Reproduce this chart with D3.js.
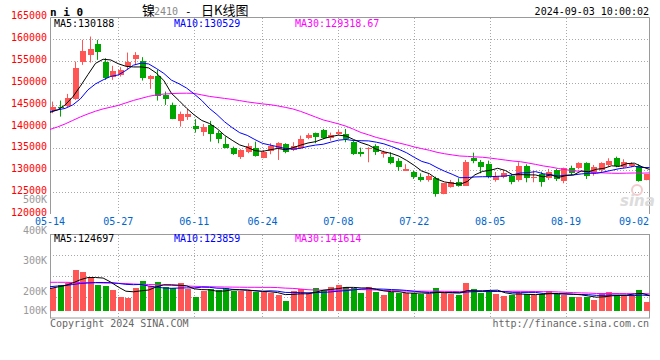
<!DOCTYPE html>
<html><head><meta charset="utf-8">
<script src="https://cdn.jsdelivr.net/npm/d3@7"></script>
<style>html,body{margin:0;padding:0;background:#fff}svg{display:block}</style>
</head><body>
<svg id="c" width="660" height="360"></svg>
<script>
// ---------- data ----------
const dates = ["05-14","05-15","05-16","05-17","05-20","05-21","05-22","05-23","05-24","05-27","05-28","05-29","05-30","05-31",
"06-03","06-04","06-05","06-06","06-07","06-11","06-12","06-13","06-14","06-17","06-18","06-19","06-20","06-21","06-24","06-25","06-26","06-27","06-28",
"07-01","07-02","07-03","07-04","07-05","07-08","07-09","07-10","07-11","07-12","07-15","07-16","07-17","07-18","07-19","07-22","07-23","07-24","07-25","07-26","07-29","07-30","07-31",
"08-01","08-02","08-05","08-06","08-07","08-08","08-09","08-12","08-13","08-14","08-15","08-16","08-19","08-20","08-21","08-22","08-23","08-26","08-27","08-28","08-29","08-30",
"09-02","09-03"];
const open  = [143830,144580,144740,146350,154710,156430,158950,154890,151460,151850,153910,155510,155050,150930,151680,147260,144970,141370,142150,140230,
138860,140390,138630,136040,135050,133130,134270,135050,132900,134430,134820,135970,134660,135190,137480,138490,139240,137340,138330,138330,
136560,134270,134890,135580,133680,133130,132210,129920,129690,128550,127790,128320,124580,126250,127400,126480,132760,131840,131460,127790,
128550,128770,127790,131070,128180,129100,128180,130080,127630,130610,130610,131620,129320,130080,131230,132760,130700,131070,131000,127790];
const close = [144580,144285,146580,153520,157340,157800,157180,151230,152760,152990,154890,156430,151230,151680,147100,146350,141760,142910,142910,139470,
140000,138330,137110,135190,133750,134660,135580,133360,134270,135580,136200,134140,135650,137180,138100,137710,137480,138100,138860,137180,
133680,133810,135190,134270,134270,131750,130700,130310,128550,127790,128770,124510,127030,127260,126420,131980,132210,130840,128550,128710,
129460,127260,131070,128320,128550,127260,129690,128020,130470,129320,131750,128770,130840,131620,132210,131000,131980,131390,127560,129100];
const high  = [145730,145960,147490,154890,159860,160620,159860,155670,153910,153610,156950,157050,155900,151800,152990,148020,145500,143440,144060,141700,
140620,141310,139010,137710,135420,134820,136200,136560,134660,136200,136430,136200,136430,137940,138490,138630,139470,138630,139240,139470,
136950,135190,135300,135970,134500,134140,132760,131390,129920,129320,129160,128550,127100,127790,128180,132370,134040,132370,132210,129620,
130080,129100,131840,131390,129850,129690,130310,130310,130610,131070,131840,131840,131230,131840,132760,133130,132530,131840,131390,129160];
const low   = [143070,142290,144450,146120,154140,154660,155280,150700,150700,151460,152990,154140,150540,148640,145960,144970,141700,140000,141540,138630,
137870,136560,136200,135050,133520,132600,133910,133130,132760,133680,132370,133910,134430,134890,137110,136200,137110,136790,138100,136430,
133520,133130,131840,133520,132900,131390,129850,129920,128020,127400,127400,123960,124510,126030,126250,126420,131620,129320,128180,127400,
128180,126800,127400,127260,127260,126250,127790,127560,127030,128930,130240,128020,128770,129550,130840,130700,130470,130700,127400,127720];
const volume = [181600,208000,221600,328000,312000,269600,208000,200000,168000,112000,104000,184000,240000,200000,232000,192000,184000,224000,176000,112000,
160000,176000,168000,184000,160000,160000,160000,152000,152000,144000,128000,80000,160000,176000,144000,184000,168000,192000,208000,192000,
184000,146000,192000,154000,128000,152000,144000,144000,144000,136000,136000,184000,144000,136000,128000,224000,176000,144000,152000,136000,
120000,128000,144000,136000,128000,136000,160000,136000,128000,112000,112000,112000,88000,144000,152000,128000,128000,128000,168000,72000];
// moving-average values before a full window exists
const ma5Head  = [143250,143830,144970,146800];
const ma10Head = [143480,143830,144170,144970,146350,148410,149780,150700,151500];
const ma30Head = [139360,139930,140620,141420,142220,142910,143530,144060,144450,144860,145430,146000,146460,146920,147260,147450,147560,147630,147650,147610,
147260,146920,146690,146460,146230,145960,145660,145430,145200];
const vma5Head  = [180000,192000,204000,224000];
const vma10Head = [194400,200000,204000,212000,220000,224000,228000,228000,226400];
const vma30Head = [229600,229600,229600,228000,228000,226400,225600,224000,224000,221600,220000,216000,213600,212000,210400,208000,205600,202400,200000,197600,
196000,194400,192800,192000,191200,190400,189600,189600,188800];
const priceTicks = [120000,125000,130000,135000,140000,145000,150000,155000,160000,165000];
const dateTicks = ["05-14","05-27","06-11","06-24","07-08","07-22","08-05","08-19","09-02"];
const volTickLabels = ["500K","400K","300K","200K","100K"];
const volTickValues = [500000,400000,300000,200000,100000];
const mainLegend = ["MA5:130188","MA10:130529","MA30:129318.67"];
const volLegend  = ["MA5:124697","MA10:123859","MA30:141614"];
const symbol = "n i 0";
const titleParts = ["镍","2410","-","日K线图"];
const stamp = "2024-09-03 10:00:02";
const footer = ["Copyright 2024 SINA.COM","http://finance.sina.com.cn"];

// ---------- helpers ----------
function ma(vals, n, head){
  return vals.map((v,i)=> i < n-1 ? head[i] : d3.mean(vals.slice(i-n+1,i+1)));
}
const N = dates.length;
const ma5 = ma(close,5,ma5Head), ma10 = ma(close,10,ma10Head), ma30 = ma(close,30,ma30Head);
const vma5 = ma(volume,5,vma5Head), vma10 = ma(volume,10,vma10Head), vma30 = ma(volume,30,vma30Head);

const RED="#ff5555", GREEN="#00a600", GRID="#a8a8a8", BORDER="#9a9a9a";
const mono = "'DejaVu Sans Mono', monospace";
const cjk = "'Noto Sans CJK SC', sans-serif";
const L = 50, R = 649;

const svg = d3.select("#c");
const xb = d3.scaleBand().domain(d3.range(N)).range([49, 650]);
const xl = d3.scaleLinear().domain([0, N-1]).range([50, 649.5]);
const yp = d3.scaleLinear().domain([120000,165000]).range([214,17.4]);
const yv = d3.scaleLinear().domain([0,613600]).range([311,234.3]);
const yvLab = d3.scaleLinear().domain([400000,500000]).range([233.5,203]);
const cx = i => xb(i) + xb.bandwidth()/2;

// ---------- header ----------
svg.append("text").attr("x",50).attr("y",15.5).attr("font-family",mono).attr("font-weight","bold")
  .attr("font-size",11).attr("fill","#000").attr("xml:space","preserve").text(symbol);
svg.append("text").attr("x",142).attr("y",14.5).attr("font-family",cjk).attr("font-size",13).attr("fill","#000").text(titleParts[0]);
svg.append("text").attr("x",154).attr("y",14.5).attr("font-family",mono).attr("font-size",10).attr("fill","#888").text(titleParts[1]);
svg.append("text").attr("x",185).attr("y",14.5).attr("font-family",mono).attr("font-size",11).attr("fill","#000").text(titleParts[2]);
svg.append("text").attr("x",201).attr("y",14.5).attr("font-family",cjk).attr("font-size",13).attr("fill","#000").text(titleParts[3]);
svg.append("text").attr("x",649).attr("y",15).attr("text-anchor","end").attr("font-family",mono)
  .attr("font-size",10).attr("fill","#000").text(stamp);

// ---------- grids ----------
const g = svg.append("g");
const gridIdx = dateTicks.slice(1,-1).map(d=>dates.indexOf(d));
// horizontal price grid
g.selectAll(".hp").data(priceTicks.slice(1,-1)).join("line")
  .attr("x1",L).attr("x2",R).attr("y1",d=>Math.round(yp(d))+0.5).attr("y2",d=>Math.round(yp(d))+0.5)
  .attr("stroke",GRID).attr("stroke-dasharray","1,2");
// vertical grid main + volume
g.selectAll(".vm").data(gridIdx).join("line")
  .attr("x1",d=>Math.round(xl(d))+0.5).attr("x2",d=>Math.round(xl(d))+0.5).attr("y1",18).attr("y2",214)
  .attr("stroke",GRID).attr("stroke-dasharray","1,2");
g.selectAll(".vv").data(gridIdx).join("line")
  .attr("x1",d=>Math.round(xl(d))+0.5).attr("x2",d=>Math.round(xl(d))+0.5).attr("y1",235).attr("y2",318)
  .attr("stroke",GRID).attr("stroke-dasharray","1,2");
// volume horizontal grid (quarters of the panel)
g.selectAll(".hv").data([1,2,3]).join("line")
  .attr("x1",L).attr("x2",R).attr("y1",d=>Math.round(234.3+d*20.9)+0.5).attr("y2",d=>Math.round(234.3+d*20.9)+0.5)
  .attr("stroke",GRID).attr("stroke-dasharray","1,2");

// ---------- borders ----------
svg.append("path").attr("d",`M${L+0.5},214 V17.5 H${R+0.5} V214`).attr("fill","none").attr("stroke",BORDER);
svg.append("rect").attr("x",L+0.5).attr("y",234.5).attr("width",R-L).attr("height",83.5).attr("fill","none").attr("stroke",BORDER);

// ---------- watermark ----------
svg.append("circle").attr("cx",637).attr("cy",190).attr("r",5).attr("fill","none").attr("stroke","#f2cccc").attr("stroke-width",2);
svg.append("text").attr("x",620).attr("y",206).attr("font-family","'DejaVu Sans', sans-serif").attr("font-style","italic")
  .attr("font-weight","bold").attr("font-size",15).attr("fill","#dcdcdc").text("sina");

// ---------- axis labels ----------
svg.selectAll(".pl").data(priceTicks).join("text")
  .attr("x",47).attr("y",d=>yp(d)+2).attr("text-anchor","end").attr("font-family",mono).attr("font-size",10)
  .attr("fill","#ff0000").text(d=>d);
svg.selectAll(".vl").data(volTickValues).join("text")
  .attr("x",47).attr("y",d=>Math.min(yvLab(d),314)).attr("text-anchor","end").attr("font-family",mono).attr("font-size",10)
  .attr("fill","#999").text((d,i)=>volTickLabels[i]);
svg.selectAll(".dl").data(dateTicks).join("text")
  .attr("x",d=>{const x=xl(dates.indexOf(d)); return Math.min(Math.max(x,49),649-15);})
  .attr("y",224.5).attr("text-anchor","middle").attr("font-family",mono).attr("font-size",10)
  .attr("fill","#0066cc").text(d=>d);

// ---------- candles ----------
const up = i => close[i] >= open[i];
const cg = svg.append("g");
cg.selectAll(".wick").data(d3.range(N)).join("line")
  .attr("x1",i=>Math.floor(cx(i))+0.5).attr("x2",i=>Math.floor(cx(i))+0.5)
  .attr("y1",i=>yp(high[i])).attr("y2",i=>yp(low[i]))
  .attr("stroke",i=>up(i)?RED:GREEN).attr("stroke-width",1);
cg.selectAll(".body").data(d3.range(N)).join("rect")
  .attr("x",i=>Math.floor(cx(i))-2.5).attr("width",6)
  .attr("y",i=>yp(Math.max(open[i],close[i])))
  .attr("height",i=>Math.max(1,Math.abs(yp(open[i])-yp(close[i]))))
  .attr("fill",i=>up(i)?RED:GREEN).attr("shape-rendering","crispEdges");

// ---------- main MA lines ----------
const lineP = d3.line().x((d,i)=>xl(i)).y(d=>yp(d));
[[ma30,"#ff00ff"],[ma10,"#0000ff"],[ma5,"#000000"]].forEach(([s,c])=>{
  svg.append("path").attr("d",lineP(s)).attr("fill","none").attr("stroke",c).attr("stroke-width",1);
});

// ---------- volume ----------
svg.selectAll(".vb").data(d3.range(N)).join("rect")
  .attr("x",i=>Math.floor(cx(i))-2.5).attr("width",6)
  .attr("y",i=>yv(volume[i])).attr("height",i=>yv(0)-yv(volume[i]))
  .attr("fill",i=>up(i)?RED:GREEN).attr("shape-rendering","crispEdges");
const lineV = d3.line().x((d,i)=>xl(i)).y(d=>yv(d));
[[vma30,"#ff00ff"],[vma10,"#0000ff"],[vma5,"#000000"]].forEach(([s,c])=>{
  svg.append("path").attr("d",lineV(s)).attr("fill","none").attr("stroke",c).attr("stroke-width",1);
});

// ---------- legends ----------
const legX = [54,174,295], legC = ["#000","#0000ff","#ff00ff"];
mainLegend.forEach((t,i)=>svg.append("text").attr("x",legX[i]).attr("y",27).attr("font-family",mono)
  .attr("font-size",10).attr("fill",legC[i]).text(t));
volLegend.forEach((t,i)=>svg.append("text").attr("x",legX[i]).attr("y",241.5).attr("font-family",mono)
  .attr("font-size",10).attr("fill",legC[i]).text(t));

// ---------- footer ----------
svg.append("text").attr("x",50).attr("y",327).attr("font-family",mono).attr("font-size",10).attr("fill","#666").text(footer[0]);
svg.append("text").attr("x",649).attr("y",327).attr("text-anchor","end").attr("font-family",mono).attr("font-size",10).attr("fill","#666").text(footer[1]);
</script>
</body></html>
